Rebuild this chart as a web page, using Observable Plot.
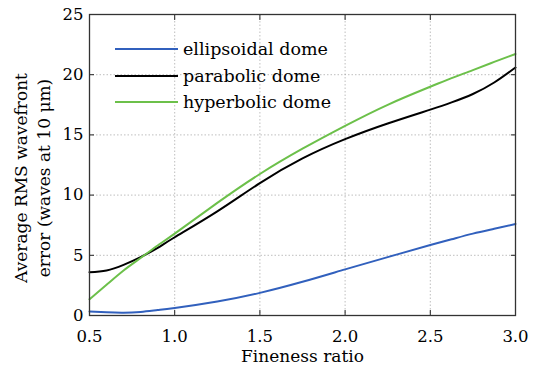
<!DOCTYPE html>
<html>
<head>
<meta charset="utf-8">
<script src="https://cdn.jsdelivr.net/npm/d3@7"></script>
<script src="https://cdn.jsdelivr.net/npm/@observablehq/plot@0.6"></script>
<style>
  html, body { margin: 0; padding: 0; background: #fff; }
  #wrap { position: relative; width: 543px; height: 368px; font-family: "DejaVu Serif", serif; }
  #legend { position: absolute; left: 115px; top: 36px; font-size: 17.5px; color: #000; }
  .row { display: flex; align-items: center; height: 26.5px; }
  .sw { width: 63px; height: 2px; margin-right: 5px; }
</style>
</head>
<body>
<div id="wrap"></div>
<script>
const fineness = [0.5, 0.6, 0.7, 0.8, 0.9, 1.0, 1.25, 1.5, 1.75, 2.0, 2.25, 2.5, 2.625, 2.75, 2.875, 3.0];
const ellipsoidal = [0.33, 0.26, 0.23, 0.3, 0.45, 0.62, 1.16, 1.88, 2.8, 3.83, 4.85, 5.85, 6.33, 6.8, 7.2, 7.6];
const parabolic  = [3.6, 3.74, 4.21, 4.85, 5.62, 6.5, 8.65, 11.0, 13.05, 14.65, 15.95, 17.1, 17.7, 18.4, 19.35, 20.6];
const hyperbolic = [1.35, 2.55, 3.74, 4.78, 5.81, 6.8, 9.35, 11.75, 13.85, 15.75, 17.5, 19.0, 19.72, 20.38, 21.06, 21.72];
const seriesNames = ["ellipsoidal dome", "parabolic dome", "hyperbolic dome"];
const seriesColors = ["#3160bd", "#000000", "#6cc04a"];
const xTicks = [0.5, 1.0, 1.5, 2.0, 2.5, 3.0];
const yTicks = [0, 5, 10, 15, 20, 25];
const xLabel = "Fineness ratio";
const yLabel = "Average RMS wavefront\nerror (waves at 10 μm)";

const seriesValues = [ellipsoidal, parabolic, hyperbolic];
const data = [];
seriesNames.forEach((name, i) => {
  fineness.forEach((f, j) => data.push({series: name, x: f, y: seriesValues[i][j]}));
});

const font = "DejaVu Serif, serif";
const chart = Plot.plot({
  width: 543,
  height: 368,
  marginLeft: 89,
  marginRight: 28,
  marginTop: 14,
  marginBottom: 53,
  style: {fontFamily: font, fontSize: "16px", color: "#000", background: "#fff"},
  x: {domain: [0.5, 3.0]},
  y: {domain: [0, 25]},
  color: {domain: seriesNames, range: seriesColors},
  marks: [
    Plot.gridX(xTicks, {stroke: "#999", strokeOpacity: 0.8, strokeDasharray: "1.5,2", strokeWidth: 0.8}),
    Plot.gridY(yTicks, {stroke: "#999", strokeOpacity: 0.8, strokeDasharray: "1.5,2", strokeWidth: 0.8}),
    Plot.line(data, {x: "x", y: "y", z: "series", stroke: "series", strokeWidth: 2, curve: "natural"}),
    Plot.axisX({ticks: xTicks, tickSize: 0, tickPadding: 15, tickFormat: d3.format(".1f"), label: null, fontSize: 16.5}),
    Plot.axisY({ticks: yTicks, tickSize: 0, tickPadding: 6, label: null, fontSize: 16.5}),
    Plot.axisX({ticks: xTicks, anchor: "bottom", tickSize: 5, dy: -5, tickFormat: () => "", label: null, stroke: "#222"}),
    Plot.axisX({ticks: xTicks, anchor: "top", tickSize: 5, dy: 5, tickFormat: () => "", label: null, stroke: "#222"}),
    Plot.axisY({ticks: yTicks, anchor: "left", tickSize: 5, dx: 5, tickFormat: () => "", label: null, stroke: "#222"}),
    Plot.axisY({ticks: yTicks, anchor: "right", tickSize: 5, dx: -5, tickFormat: () => "", label: null, stroke: "#222"}),
    Plot.frame({stroke: "#333", strokeWidth: 1.3}),
    Plot.text([xLabel], {text: d => d, frameAnchor: "bottom", lineAnchor: "middle", textAnchor: "middle", dy: 41, fontSize: 17}),
    Plot.text([yLabel], {text: d => d, frameAnchor: "left", textAnchor: "middle", lineAnchor: "middle", rotate: -90, dx: -58, dy: 13, fontSize: 17, lineHeight: 1.35})
  ]
});

const wrap = document.getElementById("wrap");
wrap.appendChild(chart);
const legend = document.createElement("div");
legend.id = "legend";
seriesNames.forEach((name, i) => {
  const row = document.createElement("div");
  row.className = "row";
  const sw = document.createElement("div");
  sw.className = "sw";
  sw.style.background = seriesColors[i];
  const t = document.createElement("span");
  t.textContent = name;
  row.appendChild(sw);
  row.appendChild(t);
  legend.appendChild(row);
});
wrap.appendChild(legend);
</script>
</body>
</html>
